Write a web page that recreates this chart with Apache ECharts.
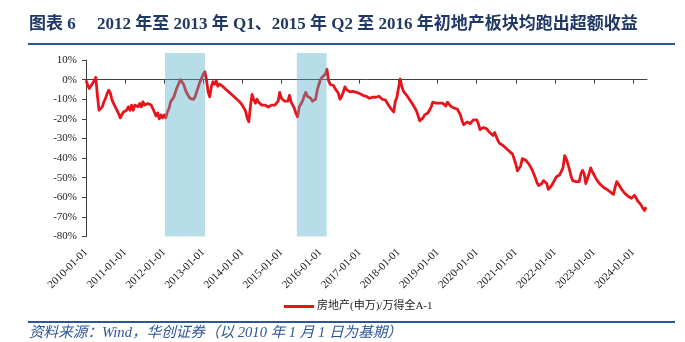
<!DOCTYPE html>
<html>
<head>
<meta charset="utf-8">
<script src="https://cdn.jsdelivr.net/npm/echarts@6/dist/echarts.min.js"></script>
<style>
  html, body { margin: 0; padding: 0; background: #ffffff; }
  #chart { width: 685px; height: 342px; }
</style>
</head>
<body>
<div id="chart"></div>
<script>
// Relative return of the real-estate sector vs. the Wind All-A index, in %.
// Two readings per month (1st and 16th), one array per calendar year.
const v2010 = [-0.3, -2.8, -4.5, -3.7, -2.0, -0.6, 1.1, -8.0, -15.6, -14.7, -13.9, -11.3,
               -9.6, -7.0, -5.4, -7.0, -10.5, -12.2, -13.0, -15.6, -17.3, -19.5, -18.5, -16.5];
const v2011 = [-17.3, -15.6, -13.9, -15.6, -13.0, -15.6, -13.0, -12.2, -13.9, -12.2, -13.9, -11.3,
               -13.0, -12.2, -12.2, -12.2, -13.0, -14.7, -16.5, -18.5, -17.0, -20.0, -18.0, -19.5];
const v2012 = [-18.0, -19.5, -16.5, -14.7, -11.3, -10.5, -8.8, -6.2, -3.7, -2.0, 0.0, 0.8,
               -2.5, -5.0, -7.0, -8.4, -9.6, -10.5, -10.1, -8.8, -6.2, -3.7, -1.1, 0.6];
const v2013 = [2.8, 4.0, 0.0, -6.2, -8.8, -3.7, -1.1, -2.3, -0.6, -3.4, -2.3, -2.8,
               -3.5, -4.5, -5.0, -5.5, -6.5, -7.5, -8.0, -9.0, -9.5, -10.5, -11.0, -11.5];
const v2014 = [-13.0, -14.0, -16.0, -19.5, -21.5, -13.5, -7.5, -10.0, -12.0, -10.0, -11.5, -12.5,
               -13.0, -14.0, -13.0, -13.0, -14.0, -14.5, -13.0, -12.0, -13.0, -13.0, -11.0, -6.5];
const v2015 = [-9.5, -10.5, -11.0, -12.0, -11.0, -8.0, -11.5, -13.0, -14.7, -17.3, -19.0, -13.9,
               -12.5, -11.0, -8.5, -6.5, -8.5, -7.5, -9.5, -11.0, -10.5, -10.0, -5.5, -2.5];
const v2016 = [0.0, 1.2, 1.7, 2.8, 5.3, -0.5, -2.5, -2.3, -3.0, -4.5, -5.0, -7.0,
               -10.0, -8.5, -6.5, -3.7, -5.0, -5.5, -6.2, -5.4, -6.0, -5.0, -6.5, -7.0];
const v2017 = [-7.0, -7.5, -8.0, -7.5, -8.5, -9.0, -9.5, -9.5, -9.0, -8.5, -9.0, -9.0,
               -8.5, -9.0, -10.0, -11.0, -10.5, -12.0, -13.0, -14.5, -15.5, -16.5, -11.0, -9.0];
const v2018 = [-4.0, 0.3, -3.5, -6.0, -7.0, -8.0, -9.0, -10.5, -11.5, -13.0, -14.5, -16.0,
               -18.5, -21.0, -20.0, -19.5, -18.0, -17.0, -17.0, -17.5, -14.0, -11.5, -11.5, -12.0];
const v2019 = [-12.0, -12.0, -13.0, -12.0, -12.0, -13.5, -11.5, -12.5, -13.5, -13.5, -14.5, -14.5,
               -15.0, -16.0, -18.0, -21.0, -23.0, -22.4, -21.6, -21.0, -22.4, -21.5, -20.5, -19.5];
const v2020 = [-20.5, -22.5, -25.5, -25.0, -24.5, -25.0, -25.0, -26.0, -27.0, -28.0, -28.5, -27.0,
               -29.0, -31.0, -32.5, -32.0, -33.5, -33.0, -35.0, -35.5, -36.5, -36.0, -38.0, -40.5];
const v2021 = [-43.0, -46.5, -47.5, -44.0, -40.3, -40.0, -41.0, -42.0, -43.0, -44.5, -46.0, -48.0,
               -50.0, -52.5, -54.0, -53.0, -53.0, -51.5, -51.0, -53.0, -56.0, -55.5, -54.0, -53.0];
const v2022 = [-51.0, -49.5, -49.5, -48.5, -47.5, -45.0, -38.8, -40.5, -43.0, -46.0, -49.5, -51.5,
               -52.5, -52.0, -53.0, -52.0, -48.0, -46.3, -48.0, -53.0, -54.0, -48.0, -45.0, -47.0];
const v2023 = [-48.5, -50.0, -51.5, -52.5, -53.5, -54.0, -55.0, -55.0, -56.0, -56.5, -57.3, -58.0,
               -58.5, -54.8, -52.0, -53.0, -54.5, -56.0, -57.0, -58.0, -58.8, -59.5, -59.5, -60.5];
const v2024 = [-60.0, -59.0, -60.5, -62.0, -63.0, -64.0, -65.5, -66.8, -65.0];

const seriesName = '房地产(申万)/万得全A-1';
const yearLabels = ['2010-01-01', '2011-01-01', '2012-01-01', '2013-01-01', '2014-01-01',
                    '2015-01-01', '2016-01-01', '2017-01-01', '2018-01-01', '2019-01-01',
                    '2020-01-01', '2021-01-01', '2022-01-01', '2023-01-01', '2024-01-01'];
// Periods in which the sector outperformed
const shadePeriods = [['2012-01-09', '2013-01-18'], ['2015-05-24', '2016-02-29']];

const titleText = '图表 6     2012 年至 2013 年 Q1、2015 年 Q2 至 2016 年初地产板块均跑出超额收益';
const sourceText = '资料来源：Wind，华创证券（以 2010 年 1 月 1 日为基期）';

// x is measured in months since 2010-01-01
function monthsSince2010(dateStr) {
  const [y, m, d] = dateStr.split('-').map(Number);
  return (y - 2010) * 12 + (m - 1) + (d - 1) / 30.44;
}

const values = [].concat(v2010, v2011, v2012, v2013, v2014, v2015, v2016, v2017,
                         v2018, v2019, v2020, v2021, v2022, v2023, v2024);
const lineData = values.map((v, i) => [i / 2, v]);
const shadeData = shadePeriods.map(p => [monthsSince2010(p[0]), monthsSince2010(p[1])]);
const yearTicks = yearLabels.map((s, i) => i * 12);
const xMax = monthsSince2010('2024-05-10');

const serif = '"Times New Roman", "Liberation Serif", "Noto Sans CJK SC", serif';
const axisColor = '#404040';
const navy = '#1F3864';
const ruleColor = '#2F5597';

const chart = echarts.init(document.getElementById('chart'), null, { renderer: 'canvas' });

chart.setOption({
  animation: false,
  backgroundColor: '#ffffff',
  grid: [
    { left: 86, right: 38, top: 60, bottom: 105.5 },
    { left: 86, right: 38, top: 53, bottom: 105.5 }
  ],
  xAxis: [
    {
      // axis line through 0% with yearly ticks
      type: 'value', gridIndex: 0, min: 0, max: xMax,
      axisLine: { show: true, onZero: true, lineStyle: { color: axisColor, width: 1 } },
      axisTick: { show: true, length: 4, customValues: yearTicks, lineStyle: { color: axisColor } },
      axisLabel: { show: false },
      splitLine: { show: false }
    },
    {
      // date labels along the bottom edge
      type: 'value', gridIndex: 0, min: 0, max: xMax, position: 'bottom',
      axisLine: { show: false, onZero: false },
      axisTick: { show: false },
      axisLabel: {
        show: true, rotate: 45, margin: 14, customValues: yearTicks,
        formatter: v => yearLabels[Math.round(v / 12)] || '',
        fontFamily: serif, fontSize: 11, color: '#1a1a1a'
      },
      splitLine: { show: false }
    },
    {
      type: 'value', gridIndex: 1, min: 0, max: xMax, show: false
    }
  ],
  yAxis: [
    {
      type: 'value', gridIndex: 0, min: -80, max: 10, interval: 10,
      axisLine: { show: true, onZero: false, lineStyle: { color: axisColor, width: 1 } },
      axisTick: { show: true, length: 4, lineStyle: { color: axisColor } },
      axisLabel: { formatter: '{value}%', margin: 9, fontFamily: serif, fontSize: 11, color: '#1a1a1a' },
      splitLine: { show: false }
    },
    { type: 'value', gridIndex: 1, min: 0, max: 1, show: false }
  ],
  legend: {
    data: [seriesName],
    left: 279, top: 296,
    icon: 'rect', itemWidth: 30, itemHeight: 3, itemGap: 4,
    textStyle: { fontFamily: serif, fontSize: 11, color: '#1a1a1a', padding: [0, 0, 0, -2] }
  },
  series: [
    {
      name: seriesName, type: 'line', xAxisIndex: 0, yAxisIndex: 0,
      data: lineData, showSymbol: false, symbol: 'none', z: 2,
      lineStyle: { color: '#E8141C', width: 2.8, join: 'round' },
      itemStyle: { color: '#E8141C' }
    },
    {
      type: 'custom', xAxisIndex: 2, yAxisIndex: 1, z: 5, silent: true,
      data: shadeData,
      encode: { x: [0, 1] },
      renderItem: (params, api) => {
        const p0 = api.coord([api.value(0), 1]);
        const p1 = api.coord([api.value(1), 0]);
        return {
          type: 'rect',
          shape: { x: p0[0], y: p0[1], width: p1[0] - p0[0], height: p1[1] - p0[1] },
          style: { fill: 'rgba(75,172,198,0.4)' }
        };
      }
    }
  ],
  graphic: [
    {
      type: 'text', left: 29, top: 16,
      style: { text: titleText, font: 'bold 17px ' + serif, fill: navy }
    },
    {
      type: 'line', shape: { x1: 28, y1: 44, x2: 675, y2: 44 },
      style: { stroke: ruleColor, lineWidth: 2 }
    },
    {
      type: 'line', shape: { x1: 28, y1: 322, x2: 675, y2: 322 },
      style: { stroke: ruleColor, lineWidth: 2 }
    },
    {
      type: 'text', left: 29, top: 326,
      style: { text: sourceText, font: 'italic 14.6px ' + serif, fill: ruleColor }
    }
  ]
});
</script>
</body>
</html>
